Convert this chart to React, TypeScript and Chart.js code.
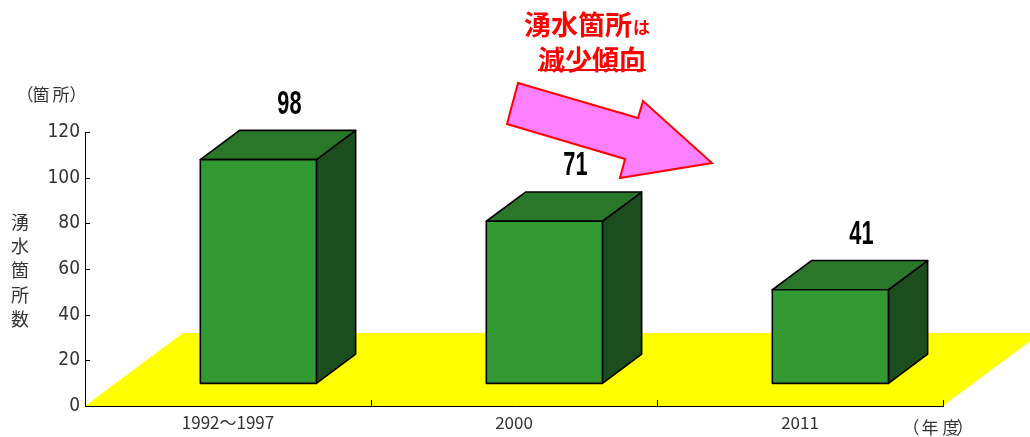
import React, { useEffect, useRef } from 'react';
import { Chart, registerables } from 'chart.js';

Chart.register(...registerables);

const categories: string[] = ['1992〜1997', '2000', '2011'];
const values: number[] = [98, 71, 41];
const yMin = 0;
const yMax = 120;
const yStep = 20;
const yUnitChars: string[] = ['（', '箇', '所', '）'];
const yTitleChars: string[] = ['湧', '水', '箇', '所', '数'];
const xUnitChars: string[] = ['（', '年', '度', '）'];
const noteLine1 = '湧水箇所';
const noteLine1b = 'は';
const noteLine2 = '減少傾向';

const JP = '"Noto Sans CJK JP", "Noto Sans", sans-serif';
const NARROW = '"Liberation Sans Narrow", "DejaVu Sans Condensed", "Liberation Sans", sans-serif';

// floor depth vector and bar placement along it
const FLOOR_DX = 98;
const FLOOR_DY = -73;
const BAR_FRONT = 0.31;
const BAR_BACK = 0.71;

const threeD = {
  id: 'threeD',
  beforeDraw(chart: any) {
    const { ctx, chartArea } = chart;
    const b = chartArea.bottom;
    ctx.save();
    ctx.fillStyle = '#FFFF00';
    ctx.beginPath();
    ctx.moveTo(chartArea.left, b);
    ctx.lineTo(chartArea.right, b);
    ctx.lineTo(chartArea.right + FLOOR_DX, b + FLOOR_DY);
    ctx.lineTo(chartArea.left + FLOOR_DX, b + FLOOR_DY);
    ctx.closePath();
    ctx.fill();
    ctx.restore();
  },
  afterDraw(chart: any) {
    const { ctx, chartArea, scales } = chart;
    const ys = scales.y;
    const xs = scales.x;
    ctx.save();
    // y ticks inward
    ctx.strokeStyle = '#000';
    ctx.lineWidth = 1;
    ys.ticks.forEach((t: any) => {
      const py = Math.round(ys.getPixelForValue(t.value)) + 0.5;
      ctx.beginPath();
      ctx.moveTo(chartArea.left, py);
      ctx.lineTo(chartArea.left + 5, py);
      ctx.stroke();
    });
    // x ticks at category boundaries, upward
    const n = categories.length;
    for (let i = 1; i <= n; i++) {
      const px = Math.round(xs.getPixelForValue(i - 0.5)) + 0.5;
      ctx.beginPath();
      ctx.moveTo(px, chartArea.bottom);
      ctx.lineTo(px, chartArea.bottom - 6);
      ctx.stroke();
    }

    // bars
    const meta = chart.getDatasetMeta(0);
    const fdx = FLOOR_DX * BAR_FRONT, fdy = FLOOR_DY * BAR_FRONT;
    const ddx = FLOOR_DX * (BAR_BACK - BAR_FRONT), ddy = FLOOR_DY * (BAR_BACK - BAR_FRONT);
    meta.data.forEach((el: any, i: number) => {
      const w = el.width;
      const L = el.x - w / 2 + fdx;
      const R = el.x + w / 2 + fdx;
      const T = el.y + fdy;
      const B = el.base + fdy;
      ctx.lineJoin = 'round';
      ctx.lineWidth = 1.6;
      ctx.strokeStyle = '#000';
      // side
      ctx.fillStyle = '#1C4D1C';
      ctx.beginPath();
      ctx.moveTo(R, T);
      ctx.lineTo(R + ddx, T + ddy);
      ctx.lineTo(R + ddx, B + ddy);
      ctx.lineTo(R, B);
      ctx.closePath();
      ctx.fill();
      ctx.stroke();
      // top
      ctx.fillStyle = '#2A772A';
      ctx.beginPath();
      ctx.moveTo(L, T);
      ctx.lineTo(L + ddx, T + ddy);
      ctx.lineTo(R + ddx, T + ddy);
      ctx.lineTo(R, T);
      ctx.closePath();
      ctx.fill();
      ctx.stroke();
      // front
      ctx.fillStyle = '#339933';
      ctx.beginPath();
      ctx.rect(L, T, R - L, B - T);
      ctx.fill();
      ctx.stroke();
      // value label
      const cx = (L + R) / 2 + 31;
      const cy = T + ddy - 26;
      ctx.save();
      ctx.translate(cx, cy);
      ctx.scale(0.64, 1);
      ctx.fillStyle = '#000';
      ctx.font = 'bold 34px "Liberation Sans", "DejaVu Sans", sans-serif';
      ctx.textAlign = 'center';
      ctx.textBaseline = 'middle';
      ctx.fillText(String(values[i]), 0, 0);
      ctx.restore();
    });

    // axis texts
    ctx.fillStyle = '#333';
    ctx.textBaseline = 'middle';
    ctx.textAlign = 'center';
    ctx.font = `17px ${JP}`;
    const yUnitX = [25, 41, 61, 78];
    yUnitChars.forEach((c, i) => ctx.fillText(c, yUnitX[i], 95));
    const xUnitX = [911, 930, 951, 965];
    xUnitChars.forEach((c, i) => ctx.fillText(c, xUnitX[i], 428));
    ctx.font = `18px ${JP}`;
    yTitleChars.forEach((c, i) => ctx.fillText(c, 20, 222 + i * 24.3));

    // arrow
    ctx.fillStyle = '#FF80FF';
    ctx.strokeStyle = '#FF0000';
    ctx.lineWidth = 2;
    ctx.lineJoin = 'miter';
    ctx.beginPath();
    ctx.moveTo(518, 83);
    ctx.lineTo(638, 118);
    ctx.lineTo(643, 101);
    ctx.lineTo(712, 163);
    ctx.lineTo(620, 178);
    ctx.lineTo(625, 159);
    ctx.lineTo(507, 124);
    ctx.closePath();
    ctx.fill();
    ctx.stroke();

    // red note
    ctx.fillStyle = '#FF0000';
    ctx.textAlign = 'left';
    ctx.textBaseline = 'middle';
    ctx.font = `bold 27px ${JP}`;
    ctx.fillText(noteLine1, 524, 25);
    const w1 = ctx.measureText(noteLine1).width;
    ctx.font = `bold 17px ${JP}`;
    ctx.fillText(noteLine1b, 524 + w1 + 1, 28);
    ctx.font = `bold 27px ${JP}`;
    ctx.fillText(noteLine2, 538, 60);
    const w2 = ctx.measureText(noteLine2).width;
    ctx.fillRect(538, 69, w2, 2);
    ctx.restore();
  },
};

export default function App() {
  const ref = useRef<HTMLCanvasElement | null>(null);
  useEffect(() => {
    if (!ref.current) return;
    const chart = new Chart(ref.current, {
      type: 'bar',
      data: {
        labels: categories,
        datasets: [
          {
            data: values,
            backgroundColor: 'rgba(0,0,0,0)',
            borderWidth: 0,
            barPercentage: 0.406,
            categoryPercentage: 1,
          },
        ],
      },
      options: {
        responsive: false,
        animation: false,
        layout: { padding: { left: 0, right: 87, top: 132, bottom: 0 } },
        plugins: { legend: { display: false }, tooltip: { enabled: false } },
        scales: {
          x: {
            grid: { display: false, drawTicks: false },
            border: { display: true, color: '#000', width: 1 },
            ticks: {
              padding: 6,
              color: '#333',
              font: { family: JP, size: 17 },
            },
            afterFit: (s: any) => {
              s.height = 31;
            },
          },
          y: {
            min: yMin,
            max: yMax,
            grid: { display: false, drawTicks: false },
            border: { display: true, color: '#000', width: 1 },
            ticks: {
              stepSize: yStep,
              padding: 5,
              color: '#333',
              font: { family: NARROW, size: 19 },
            },
            afterFit: (s: any) => {
              s.width = 85;
            },
          },
        },
      },
      plugins: [threeD],
    });
    return () => chart.destroy();
  }, []);
  return (
    <div style={{ position: 'fixed', left: 0, top: 0, width: 1030, height: 437, background: '#fff' }}>
      <canvas ref={ref} width={1030} height={437} style={{ width: 1030, height: 437, display: 'block' }} />
    </div>
  );
}
